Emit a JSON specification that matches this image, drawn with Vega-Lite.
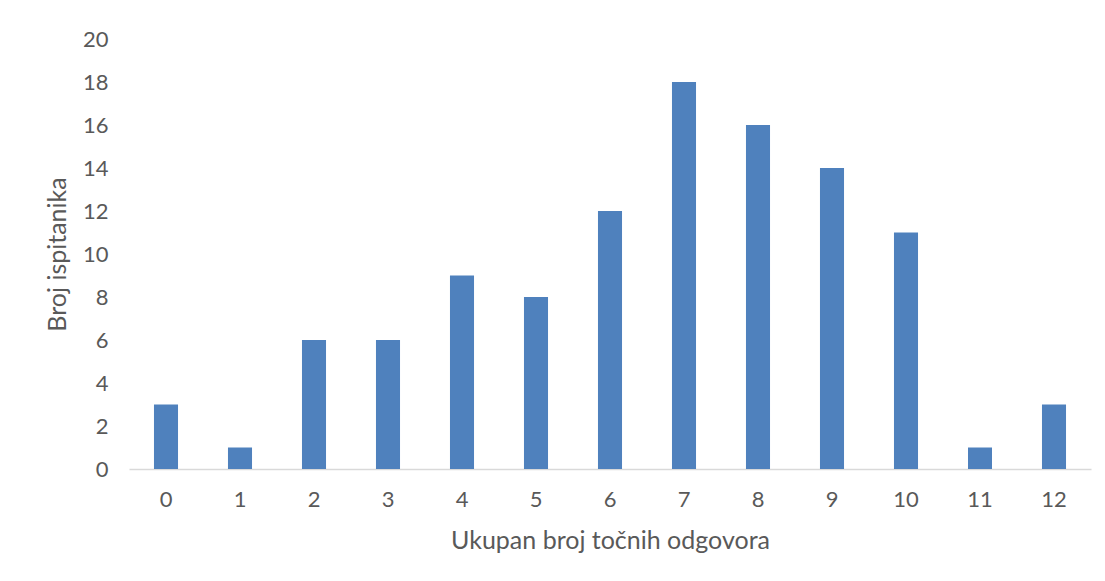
{
  "$schema": "https://vega.github.io/schema/vega-lite/v6.json",
  "autosize": {"type": "none"},
  "padding": {"left": 129, "top": 39, "right": 14, "bottom": 112},
  "width": 962,
  "height": 430,
  "background": "white",
  "config": {
    "view": {"stroke": null},
    "font": "Lato",
    "axis": {"labelColor": "#595959", "titleColor": "#595959", "labelFont": "Lato", "titleFont": "Lato", "labelFontSize": 22, "titleFontSize": 25, "titleFontWeight": "normal", "grid": false, "ticks": false}
  },
  "data": {
    "values": [
      {"k": "0", "n": 3}, {"k": "1", "n": 1}, {"k": "2", "n": 6}, {"k": "3", "n": 6},
      {"k": "4", "n": 9}, {"k": "5", "n": 8}, {"k": "6", "n": 12}, {"k": "7", "n": 18},
      {"k": "8", "n": 16}, {"k": "9", "n": 14}, {"k": "10", "n": 11}, {"k": "11", "n": 1},
      {"k": "12", "n": 3}
    ]
  },
  "mark": {"type": "bar", "color": "#4f81bd"},
  "encoding": {
    "x": {
      "field": "k", "type": "ordinal", "sort": null,
      "scale": {"paddingInner": 0.675, "paddingOuter": 0.3375},
      "axis": {"title": "Ukupan broj točnih odgovora", "labelAngle": 0, "labelPadding": 20, "titlePadding": 18, "domainColor": "#d9d9d9", "domainWidth": 1.5}
    },
    "y": {
      "field": "n", "type": "quantitative",
      "scale": {"domain": [0, 20]},
      "axis": {"title": "Broj ispitanika", "values": [0,2,4,6,8,10,12,14,16,18,20], "domain": false, "labelPadding": 21, "titlePadding": 12}
    }
  }
}
